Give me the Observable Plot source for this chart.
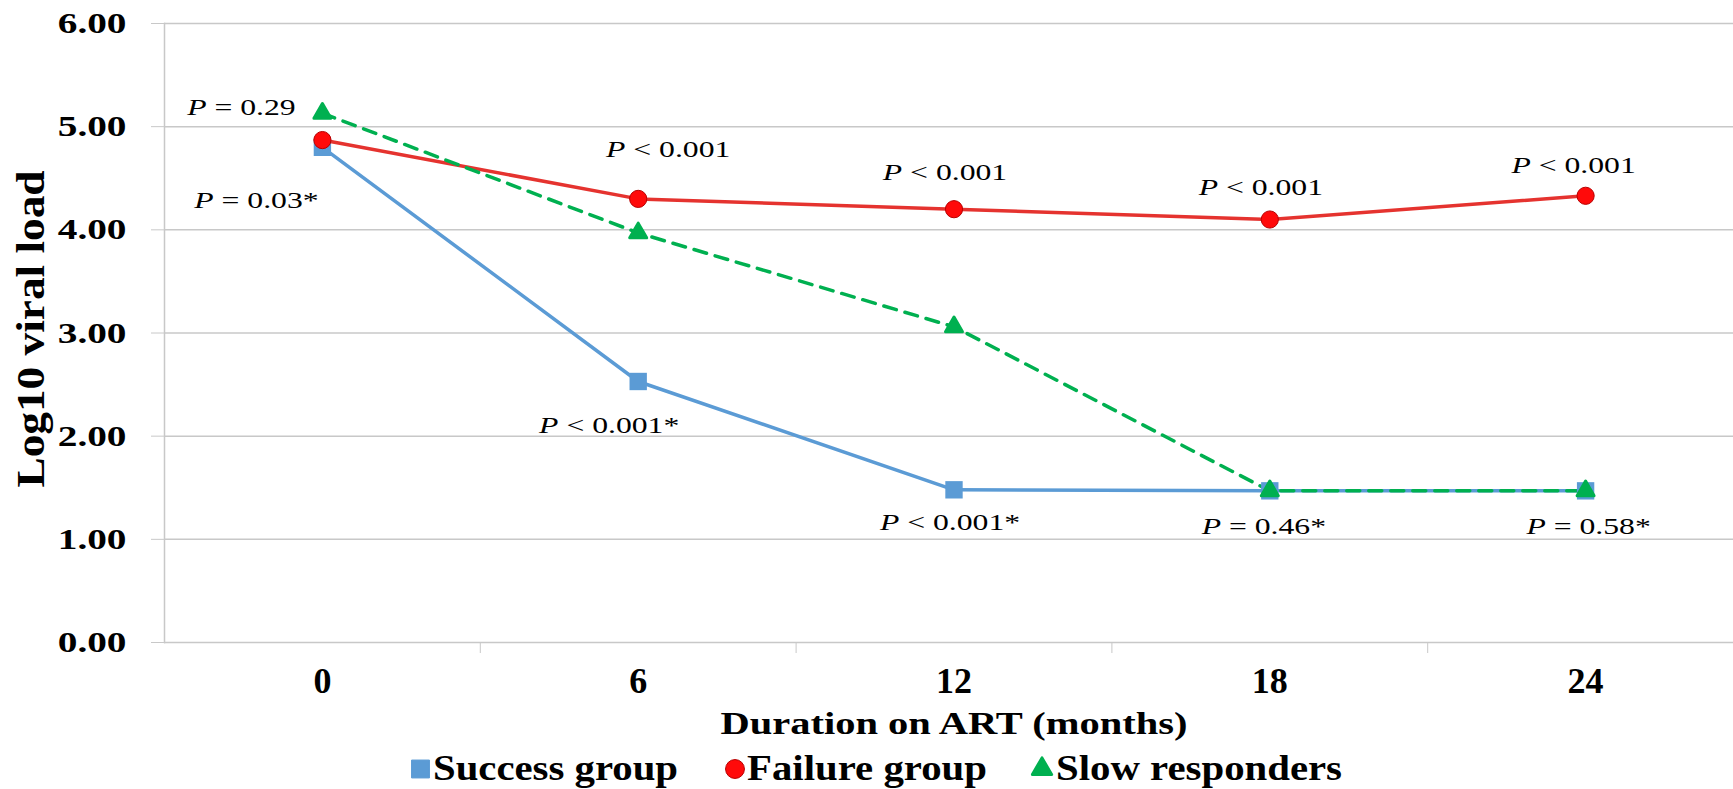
<!DOCTYPE html>
<html><head><meta charset="utf-8">
<script src="https://cdn.jsdelivr.net/npm/d3@7"></script>
<script src="https://cdn.jsdelivr.net/npm/@observablehq/plot@0.6"></script>
<style>
html,body{margin:0;padding:0;background:#fff;}
#chart svg,#legend svg{display:block;}
</style></head><body><div id="chart"></div><div id="legend"></div>
<script>
// ---- data ----
const months = [0, 6, 12, 18, 24];
const successGroup = [4.80, 2.53, 1.48, 1.47, 1.47];
const failureGroup = [4.87, 4.30, 4.20, 4.10, 4.33];
const slowResponders = [5.13, 3.97, 3.06, 1.47, 1.47];
const seriesNames = ["Success group", "Failure group", "Slow responders"];
const yTicks = [0, 1, 2, 3, 4, 5, 6];
const pSuccess = ["P = 0.03*", "P < 0.001*", "P < 0.001*", "P = 0.46*", "P = 0.58*"];
const pFailure = [null, "P < 0.001", "P < 0.001", "P < 0.001", "P < 0.001"];
const pSlow = ["P = 0.29", null, null, null, null];
const xTitle = "Duration on ART (months)";
const yTitle = "Log10 viral load";

// ---- styling ----
const BLUE = "#5b9bd5", RED = "#e5332f", RED_DOT = "#ff0a0a", GREEN = "#00b050", GRID = "#c8c8c8";
const FONT = "'Liberation Serif','Times New Roman',serif";
// label offsets (px) relative to their point
const offSuccess = [[-66, 53], [-29, 44], [-4, 32], [-6, 35], [3, 35]];
const offFailure = [null, [30, -50], [-9, -37], [-9, -32], [-12, -30]];
const offSlow = [[-81, -6], null, null, null, null];

const rows = arr => months.map((m, i) => ({month: m, value: arr[i]}));
const sRows = rows(successGroup), fRows = rows(failureGroup), gRows = rows(slowResponders);
const boundaries = months.slice(0, -1).map(m => m + 3);

function labelMarks(texts, values, offs) {
  const out = [];
  texts.forEach((t, i) => {
    if (!t) return;
    out.push(Plot.text([{month: months[i], value: values[i], label: t}], {
      x: "month", y: "value", text: "label", dx: offs[i][0], dy: offs[i][1],
      fontSize: 24, fill: "#000"
    }));
  });
  return out;
}

const chart = Plot.plot({
  width: 1733, height: 745,
  marginLeft: 164, marginRight: 0, marginTop: 23, marginBottom: 103,
  x: {type: "linear", domain: [-3, 26.81]},
  y: {domain: [0, 6]},
  style: {fontFamily: FONT, background: "#fff", color: "#000", overflow: "visible"},
  marks: [
    Plot.gridY(yTicks, {stroke: GRID, strokeOpacity: 1, strokeWidth: 1.5}),
    Plot.frame({anchor: "left", stroke: GRID, strokeWidth: 1.5}),
    Plot.axisY(yTicks, {tickSize: 13, tickPadding: 25, tickFormat: d => d.toFixed(2), stroke: GRID, fill: "#000",
      fontSize: 30, fontWeight: "bold", label: null}),
    Plot.axisX(boundaries, {tickSize: 11, tickFormat: () => "", stroke: GRID, label: null}),
    Plot.axisX(months, {tickSize: 0, tickPadding: 25, fontSize: 36, fontWeight: "bold", fill: "#000", label: null}),
    Plot.text([xTitle], {frameAnchor: "bottom", lineAnchor: "middle", textAnchor: "middle", text: d => d,
      dx: 5, dy: 81, fontSize: 32, fontWeight: "bold", fill: "#000"}),
    Plot.text([yTitle], {frameAnchor: "left", lineAnchor: "middle", textAnchor: "middle", text: d => d,
      rotate: -90, dx: -133, dy: -4, fontSize: 40, fontWeight: "bold", fill: "#000"}),
    Plot.line(sRows, {x: "month", y: "value", stroke: BLUE, strokeWidth: 3.5}),
    Plot.line(fRows, {x: "month", y: "value", stroke: RED, strokeWidth: 3.5}),
    Plot.line(gRows, {x: "month", y: "value", stroke: GREEN, strokeWidth: 3.5, strokeDasharray: "13,9"}),
    Plot.dot(sRows, {x: "month", y: "value", symbol: "square", r: 9.8, fill: BLUE}),
    Plot.dot(fRows, {x: "month", y: "value", symbol: "circle", r: 8.6, fill: RED_DOT, stroke: "#b80000", strokeWidth: 1}),
    Plot.dot(gRows, {x: "month", y: "value", symbol: "triangle", r: 6.3, fill: GREEN, stroke: GREEN, strokeWidth: 3, strokeLinejoin: "round"}),
    ...labelMarks(pSuccess, successGroup, offSuccess),
    ...labelMarks(pFailure, failureGroup, offFailure),
    ...labelMarks(pSlow, slowResponders, offSlow)
  ]
});
document.getElementById("chart").appendChild(chart);

// ---- text post-processing: italic P, horizontal stretch ----
const stretch = (el, f, target) => {
  const w = el.getComputedTextLength();
  el.setAttribute("textLength", target != null ? target : w * f);
  el.setAttribute("lengthAdjust", "spacingAndGlyphs");
};
d3.select(chart).selectAll("text").each(function() {
  const t = this.textContent;
  if (/^P [<=]/.test(t)) {
    this.textContent = "";
    d3.select(this).append("tspan").attr("font-style", "italic").text("P");
    d3.select(this).append("tspan").text(t.slice(1));
    stretch(this, 1.32);
  } else if (/^\d\.\d\d$/.test(t)) {
    stretch(this, 1.31);
  } else if (t === xTitle) {
    stretch(this, 1, 467);
  } else if (t === yTitle) {
    stretch(this, 1, 317);
  }
});

// ---- legend ----
const legendItems = [
  {name: seriesNames[0], color: BLUE, sym: d3.symbolSquare, cx: 420.5, tx: 433, w: 245, size: 320},
  {name: seriesNames[1], color: RED_DOT, sym: d3.symbolCircle, cx: 735, tx: 747, w: 240, size: 280},
  {name: seriesNames[2], color: GREEN, sym: d3.symbolTriangle, cx: 1042, tx: 1056, w: 286, size: 160}
];
const leg = d3.select("#legend").append("svg").attr("width", 1733).attr("height", 44)
  .style("font-family", FONT);
legendItems.forEach(it => {
  leg.append("path").attr("d", d3.symbol(it.sym, it.size)())
    .attr("transform", `translate(${it.cx},24)`).attr("fill", it.color)
    .attr("stroke", it.sym === d3.symbolCircle ? "#b80000" : it.color)
    .attr("stroke-width", it.sym === d3.symbolTriangle ? 3 : 1).attr("stroke-linejoin", "round");
  leg.append("text").attr("x", it.tx).attr("y", 35).attr("font-size", 35).attr("font-weight", "bold")
    .attr("textLength", it.w).attr("lengthAdjust", "spacingAndGlyphs").text(it.name);
});
</script></body></html>
